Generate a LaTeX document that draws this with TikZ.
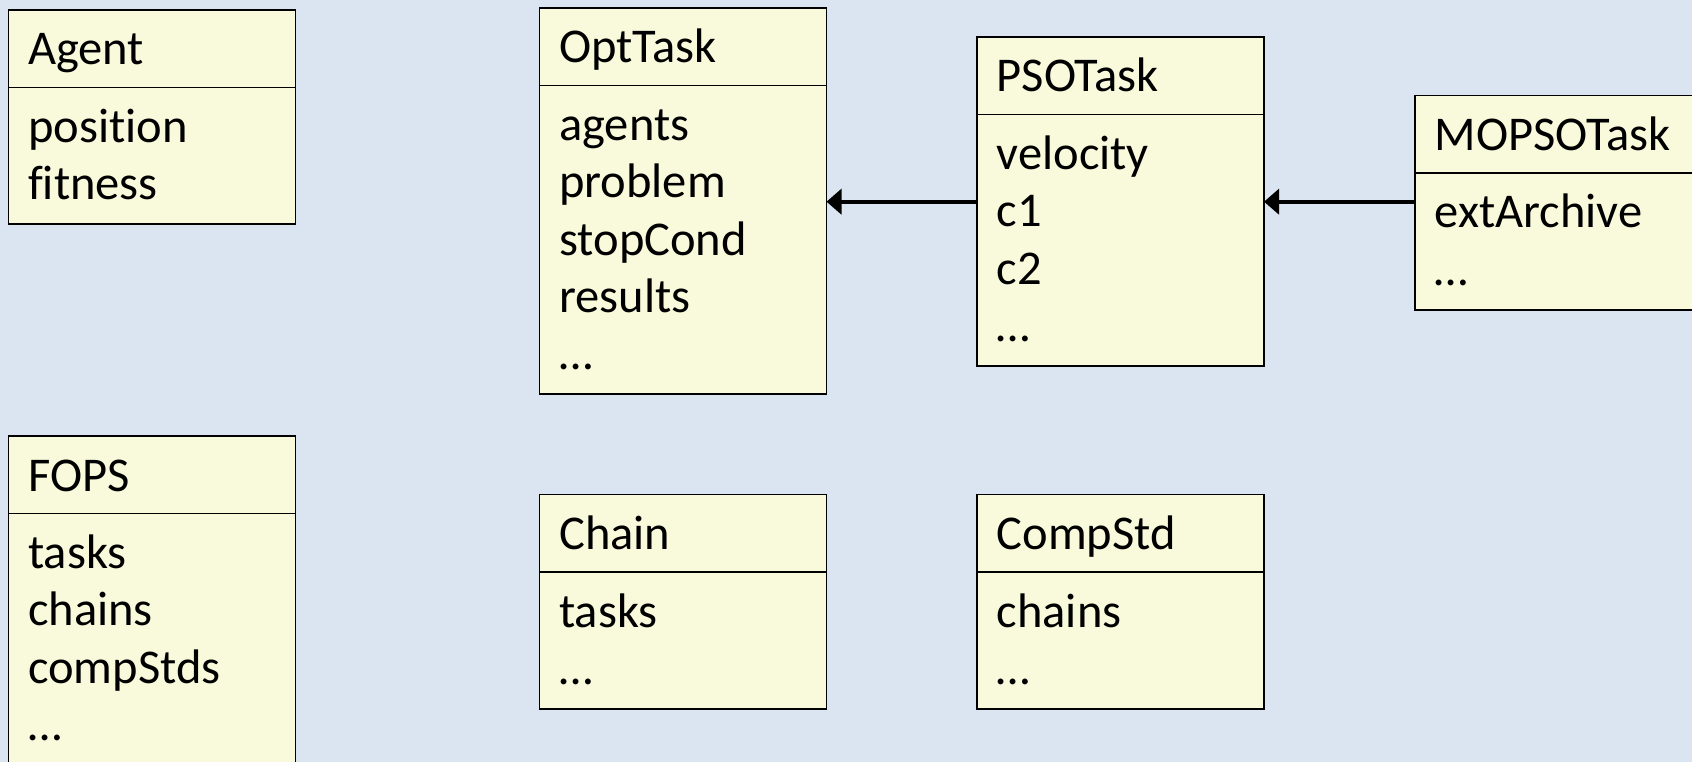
\documentclass[tikz,border=0pt]{standalone}
\usepackage{fontspec}
\setmainfont{Carlito}[Ligatures={NoCommon,NoContextual}]
\usetikzlibrary{arrows.meta}

\definecolor{slidebg}{RGB}{219,229,241}
\definecolor{classfill}{RGB}{248,250,219}

\tikzset{
  x=1pt, y=1pt,
  compartment/.style={draw=black, line width=1.8pt, fill=classfill,
    rectangle, inner sep=0pt, outer sep=0pt, minimum width=287pt},
  titlebox/.style={compartment, minimum height=77.5pt},
  lbl/.style={anchor=base west, inner sep=0pt, font=\fontsize{48.5}{58}\selectfont},
  inherit/.style={line width=4pt, -{Triangle[length=15pt,width=25pt]}},
}

% A class box: id, top-left corner, title, number of attribute lines, attributes
\newcommand\classbox[5]{%
  \node[titlebox, anchor=north west] (#1-t) at #2 {};
  \node[compartment, anchor=north west, minimum height={22+57.3*#4}] (#1-b) at (#1-t.south west) {};
  \node[lbl] (#1-name) at ([shift={(19.5,-55)}]#1-t.north west) {#3};
  \foreach \s [count=\i from 0] in {#5}
    \node[lbl] (#1-a\i) at ([shift={(19.5,{-55-57.3*\i})}]#1-b.north west) {\s};
}

\begin{document}
\begin{tikzpicture}
  \useasboundingbox (0,0) rectangle (1692,-762);
  \clip (0,0) rectangle (1692,-762);
  \fill[slidebg] (0,0) rectangle (1692,-762);

  \classbox{agent}{(8.5,-10)}{Agent}{2}{position,fitness}
  \classbox{opt}{(539.5,-8)}{OptTask}{5}{agents,problem,stopCond,results,…}
  \classbox{pso}{(977,-37)}{PSOTask}{4}{velocity,c1,c2,…}
  \classbox{mopso}{(1415,-95.5)}{MOPSOTask}{2}{extArchive,…}
  \classbox{fops}{(8.5,-436)}{FOPS}{4}{tasks,chains,compStds,…}
  \classbox{chain}{(539.5,-494.5)}{Chain}{2}{tasks,…}
  \classbox{comp}{(977,-494.5)}{CompStd}{2}{chains,…}

  % generalisation links
  \coordinate (level) at (0,-201.7);
  \draw[inherit] (pso-b.west |- level) -- (opt-b.east |- level);
  \draw[inherit] (mopso-b.west |- level) -- (pso-b.east |- level);
\end{tikzpicture}
\end{document}
